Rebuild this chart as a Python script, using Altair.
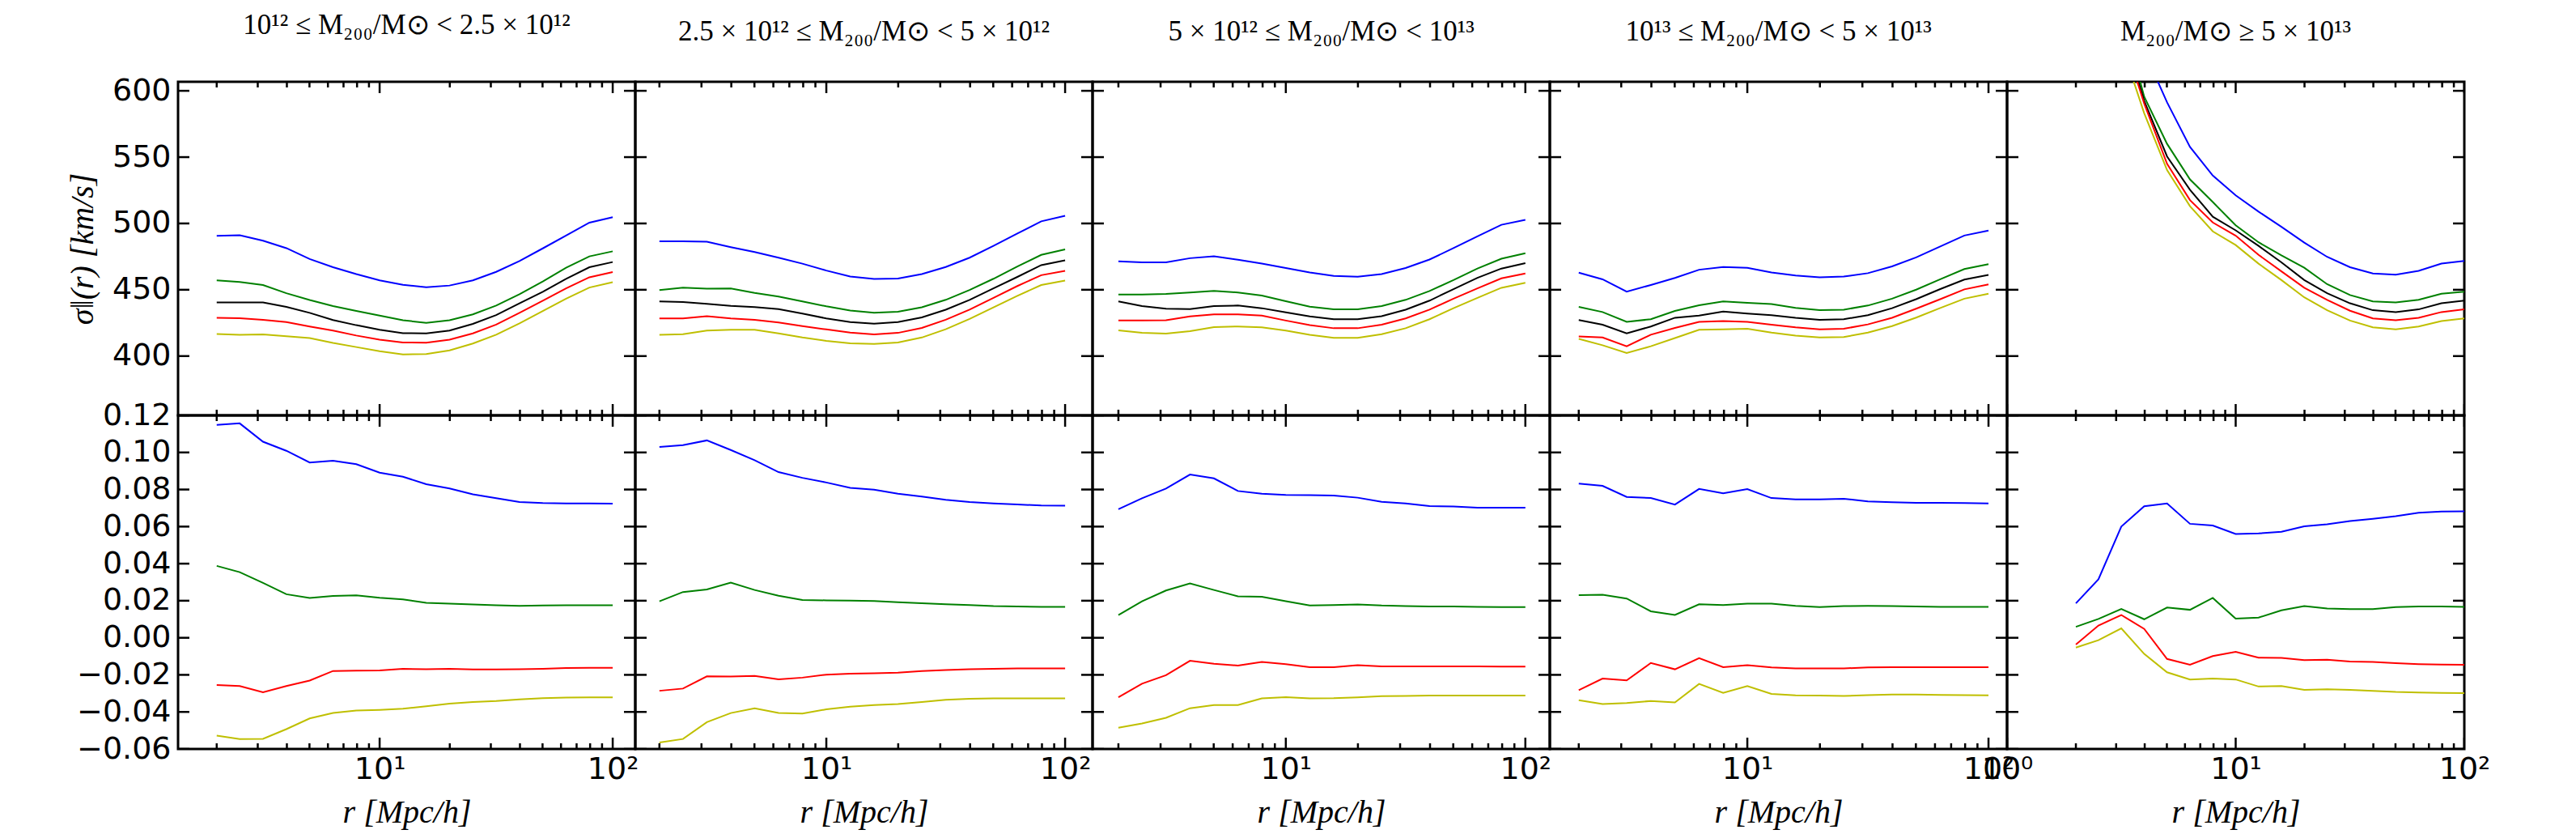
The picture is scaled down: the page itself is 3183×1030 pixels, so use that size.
import altair as alt
import pandas as pd

# ---------------- data ----------------
R = [2.0, 2.51, 3.16, 3.98, 5.01, 6.31, 7.94, 10.0, 12.59, 15.85, 19.95, 25.12,
     31.62, 39.81, 50.12, 63.1, 79.43, 100.0]
R_P5_TOP = R[2:]

SERIES = ["blue", "green", "black", "red", "yellow"]
COLORS = ["#0000ff", "#008000", "#000000", "#ff0000", "#bfbf00"]

TITLES = [
    "10¹² ≤ M₂₀₀/M⊙ < 2.5 × 10¹²",
    "2.5 × 10¹² ≤ M₂₀₀/M⊙ < 5 × 10¹²",
    "5 × 10¹² ≤ M₂₀₀/M⊙ < 10¹³",
    "10¹³ ≤ M₂₀₀/M⊙ < 5 × 10¹³",
    "M₂₀₀/M⊙ ≥ 5 × 10¹³",
]
Y_TITLE = "σ‖(r)  [km/s]"
X_TITLE = "r  [Mpc/h]"

X_DOMAINS = [[1.365, 125.0], [1.585, 130.3], [1.56, 126.5], [1.517, 119.4], [1.0, 100.0]]
TOP_Y_DOMAIN = [355.3, 606.8]
BOT_Y_DOMAIN = [-0.06, 0.12]
TOP_Y_TICKS = [350, 400, 450, 500, 550, 600]
BOT_Y_TICKS = [-0.06, -0.04, -0.02, 0.0, 0.02, 0.04, 0.06, 0.08, 0.10, 0.12]
X_MAJOR = [1, 10, 100]
X_MINOR = [2, 3, 4, 5, 6, 7, 8, 9, 20, 30, 40, 50, 60, 70, 80, 90]

# panel 1
P1_TOP_BLUE = [490.7, 491.1, 487.0, 481.4, 473.2, 467.0, 461.8, 457.1, 453.8, 451.9, 453.2, 457.1, 463.5, 471.7, 481.2, 490.9, 500.6, 504.7]
P1_TOP_GREEN = [457.1, 455.9, 453.6, 447.4, 442.3, 437.7, 434.0, 430.5, 427.0, 425.1, 427.0, 431.5, 438.1, 446.6, 456.3, 466.6, 475.2, 479.0]
P1_TOP_BLACK = [440.4, 440.4, 440.4, 437.1, 432.6, 427.2, 423.3, 419.8, 417.3, 417.1, 419.2, 424.3, 430.9, 439.8, 448.4, 458.3, 467.0, 470.9]
P1_TOP_RED = [428.9, 428.6, 427.4, 425.6, 422.3, 419.2, 415.5, 412.4, 410.3, 410.1, 412.4, 417.1, 423.7, 432.6, 441.8, 451.1, 459.4, 463.3]
P1_TOP_YELLOW = [416.7, 416.1, 416.3, 415.0, 413.6, 409.9, 406.8, 403.7, 401.2, 401.6, 404.3, 409.5, 416.1, 424.7, 434.0, 443.3, 451.7, 455.7]
P1_BOT_BLUE = [0.1149, 0.1157, 0.1058, 0.1009, 0.0946, 0.0955, 0.0937, 0.0891, 0.0869, 0.0829, 0.0806, 0.0774, 0.0753, 0.0733, 0.0727, 0.0725, 0.0725, 0.0724]
P1_BOT_GREEN = [0.0388, 0.0354, 0.0296, 0.0235, 0.0215, 0.0226, 0.0229, 0.0216, 0.0207, 0.0189, 0.0184, 0.0180, 0.0175, 0.0172, 0.0174, 0.0175, 0.0175, 0.0175]
P1_BOT_RED = [-0.0255, -0.0260, -0.0294, -0.0260, -0.0231, -0.0179, -0.0177, -0.0176, -0.0167, -0.0170, -0.0167, -0.0171, -0.0171, -0.0170, -0.0167, -0.0163, -0.0162, -0.0162]
P1_BOT_YELLOW = [-0.0528, -0.0546, -0.0545, -0.0493, -0.0435, -0.0406, -0.0393, -0.0389, -0.0383, -0.0370, -0.0355, -0.0347, -0.0341, -0.0332, -0.0326, -0.0323, -0.0321, -0.0321]

# panel 2
P2_TOP_BLUE = [486.6, 486.6, 486.2, 482.1, 478.4, 474.2, 469.7, 464.5, 460.0, 458.1, 458.5, 461.8, 467.2, 474.2, 483.1, 492.4, 501.6, 505.8]
P2_TOP_GREEN = [449.7, 451.6, 450.8, 451.0, 447.6, 444.9, 441.2, 437.5, 434.4, 432.7, 433.5, 436.8, 442.4, 449.8, 458.3, 467.6, 476.3, 480.4]
P2_TOP_BLACK = [441.2, 440.8, 439.4, 437.9, 436.9, 435.4, 432.1, 428.4, 425.7, 424.5, 425.7, 429.2, 435.0, 442.4, 451.1, 459.7, 468.6, 472.2]
P2_TOP_RED = [428.4, 428.4, 430.1, 428.4, 427.4, 425.3, 422.6, 420.1, 417.7, 416.4, 417.5, 421.2, 427.4, 435.0, 443.9, 452.8, 461.0, 464.3]
P2_TOP_YELLOW = [416.1, 416.5, 419.2, 419.8, 419.8, 417.1, 414.0, 411.5, 409.7, 409.1, 410.3, 414.0, 420.2, 428.0, 436.7, 445.4, 453.6, 456.9]
P2_BOT_BLUE = [0.1030, 0.1039, 0.1065, 0.1013, 0.0958, 0.0894, 0.0863, 0.0838, 0.0809, 0.0799, 0.0777, 0.0762, 0.0745, 0.0733, 0.0725, 0.0719, 0.0714, 0.0713]
P2_BOT_GREEN = [0.0197, 0.0247, 0.0261, 0.0298, 0.0258, 0.0227, 0.0204, 0.0202, 0.0201, 0.0198, 0.0192, 0.0186, 0.0181, 0.0177, 0.0171, 0.0169, 0.0167, 0.0167]
P2_BOT_RED = [-0.0286, -0.0274, -0.0208, -0.0209, -0.0206, -0.0224, -0.0215, -0.0199, -0.0194, -0.0191, -0.0188, -0.0180, -0.0174, -0.0170, -0.0167, -0.0165, -0.0165, -0.0165]
P2_BOT_YELLOW = [-0.0565, -0.0546, -0.0455, -0.0406, -0.0381, -0.0406, -0.0409, -0.0386, -0.0372, -0.0363, -0.0358, -0.0347, -0.0335, -0.0329, -0.0327, -0.0327, -0.0327, -0.0327]

# panel 3
P3_TOP_BLUE = [471.5, 470.7, 470.7, 473.8, 475.2, 472.7, 469.7, 466.4, 463.1, 460.4, 459.8, 461.8, 466.4, 472.8, 481.4, 490.3, 499.0, 502.7]
P3_TOP_GREEN = [446.4, 446.4, 446.8, 448.0, 449.1, 448.0, 445.6, 441.4, 437.3, 435.3, 435.3, 437.7, 442.4, 449.1, 457.3, 466.0, 473.4, 477.5]
P3_TOP_BLACK = [441.2, 437.7, 435.7, 435.4, 437.7, 438.1, 436.1, 433.0, 429.9, 427.8, 427.8, 430.1, 435.0, 441.8, 450.5, 459.0, 466.0, 470.1]
P3_TOP_RED = [426.8, 426.8, 427.0, 429.9, 431.5, 431.5, 430.5, 426.8, 423.3, 421.0, 421.0, 423.7, 428.4, 435.0, 443.3, 451.1, 458.6, 462.3]
P3_TOP_YELLOW = [419.4, 417.5, 416.9, 418.8, 421.9, 422.3, 421.7, 419.2, 416.1, 413.8, 413.8, 416.5, 421.0, 427.8, 436.1, 443.9, 451.5, 455.2]
P3_BOT_BLUE = [0.0694, 0.0753, 0.0805, 0.0881, 0.0860, 0.0792, 0.0777, 0.0771, 0.0770, 0.0767, 0.0756, 0.0734, 0.0725, 0.0711, 0.0708, 0.0702, 0.0702, 0.0702]
P3_BOT_GREEN = [0.0123, 0.0197, 0.0255, 0.0293, 0.0258, 0.0224, 0.0221, 0.0197, 0.0174, 0.0177, 0.0180, 0.0174, 0.0171, 0.0169, 0.0169, 0.0167, 0.0166, 0.0166]
P3_BOT_RED = [-0.0321, -0.0248, -0.0202, -0.0124, -0.0140, -0.0150, -0.0130, -0.0142, -0.0159, -0.0159, -0.0148, -0.0154, -0.0154, -0.0154, -0.0154, -0.0154, -0.0156, -0.0156]
P3_BOT_YELLOW = [-0.0485, -0.0462, -0.0432, -0.0380, -0.0363, -0.0363, -0.0327, -0.0320, -0.0327, -0.0326, -0.0321, -0.0315, -0.0314, -0.0312, -0.0312, -0.0312, -0.0312, -0.0312]

# panel 4
P4_TOP_BLUE = [462.9, 457.9, 448.6, 453.6, 458.9, 465.1, 467.2, 466.6, 463.1, 460.8, 459.4, 460.0, 462.5, 467.6, 474.4, 482.7, 490.9, 494.6]
P4_TOP_GREEN = [437.1, 433.2, 425.8, 427.8, 434.0, 438.3, 441.2, 440.2, 439.2, 436.3, 434.6, 435.0, 438.1, 443.3, 450.1, 457.9, 465.6, 469.3]
P4_TOP_BLACK = [427.2, 423.7, 417.1, 422.3, 428.9, 430.5, 433.6, 432.1, 430.9, 428.9, 427.4, 427.8, 430.9, 436.1, 442.9, 450.5, 457.7, 461.2]
P4_TOP_RED = [414.8, 414.0, 407.4, 416.1, 421.2, 425.8, 426.4, 425.8, 423.7, 421.7, 420.2, 420.6, 423.9, 428.9, 435.7, 442.9, 450.3, 454.0]
P4_TOP_YELLOW = [413.0, 408.2, 402.3, 407.4, 413.6, 419.8, 420.2, 420.6, 417.7, 415.5, 414.0, 414.4, 417.7, 422.6, 429.0, 436.3, 443.3, 447.0]
P4_BOT_BLUE = [0.0832, 0.0820, 0.0760, 0.0754, 0.0719, 0.0803, 0.0780, 0.0802, 0.0754, 0.0747, 0.0747, 0.0750, 0.0736, 0.0731, 0.0728, 0.0728, 0.0727, 0.0725]
P4_BOT_GREEN = [0.0230, 0.0232, 0.0212, 0.0143, 0.0123, 0.0181, 0.0177, 0.0184, 0.0184, 0.0172, 0.0166, 0.0171, 0.0172, 0.0171, 0.0169, 0.0167, 0.0167, 0.0167]
P4_BOT_RED = [-0.0283, -0.0220, -0.0230, -0.0136, -0.0170, -0.0110, -0.0159, -0.0148, -0.0160, -0.0165, -0.0165, -0.0165, -0.0160, -0.0159, -0.0159, -0.0159, -0.0159, -0.0159]
P4_BOT_YELLOW = [-0.0337, -0.0358, -0.0352, -0.0341, -0.0349, -0.0249, -0.0297, -0.0260, -0.0303, -0.0311, -0.0312, -0.0314, -0.0309, -0.0306, -0.0306, -0.0308, -0.0309, -0.0311]

# panel 5 (top row starts at r = 3.16; smaller radii lie far above the plot)
P5_TOP_BLUE = [720.0, 630.0, 591.3, 557.7, 536.1, 521.2, 508.9, 497.5, 485.6, 474.8, 467.0, 462.3, 461.4, 464.3, 469.7, 471.7]
P5_TOP_GREEN = [660.0, 595.5, 560.0, 533.2, 516.1, 498.6, 485.8, 475.9, 466.6, 454.2, 446.0, 441.2, 440.4, 442.4, 447.0, 448.6]
P5_TOP_BLACK = [650.0, 592.4, 550.5, 525.4, 505.1, 494.8, 483.1, 470.7, 457.3, 447.4, 439.8, 434.6, 433.2, 435.2, 439.8, 441.8]
P5_TOP_RED = [645.0, 590.3, 545.0, 517.6, 500.7, 490.8, 476.3, 463.9, 451.5, 442.4, 434.2, 428.4, 427.0, 428.9, 433.2, 435.2]
P5_TOP_YELLOW = [635.0, 583.1, 540.2, 513.0, 494.0, 483.7, 469.7, 457.3, 444.3, 434.6, 426.8, 421.7, 420.2, 422.3, 426.4, 428.4]
P5_BOT_BLUE = [0.0186, 0.0316, 0.0600, 0.0710, 0.0725, 0.0615, 0.0606, 0.0560, 0.0563, 0.0572, 0.0601, 0.0612, 0.0630, 0.0642, 0.0656, 0.0675, 0.0681, 0.0682]
P5_BOT_GREEN = [0.0059, 0.0102, 0.0155, 0.0100, 0.0163, 0.0151, 0.0215, 0.0103, 0.0109, 0.0148, 0.0171, 0.0158, 0.0155, 0.0155, 0.0166, 0.0169, 0.0169, 0.0167]
P5_BOT_RED = [-0.0036, 0.0066, 0.0123, 0.0048, -0.0114, -0.0145, -0.0099, -0.0076, -0.0107, -0.0108, -0.0121, -0.0118, -0.0128, -0.0130, -0.0137, -0.0142, -0.0145, -0.0146]
P5_BOT_YELLOW = [-0.0053, -0.0013, 0.0051, -0.0087, -0.0186, -0.0225, -0.0220, -0.0225, -0.0263, -0.0260, -0.0281, -0.0278, -0.0281, -0.0286, -0.0292, -0.0295, -0.0297, -0.0298]

TOP_PANELS = [
    (R, [P1_TOP_BLUE, P1_TOP_GREEN, P1_TOP_BLACK, P1_TOP_RED, P1_TOP_YELLOW]),
    (R, [P2_TOP_BLUE, P2_TOP_GREEN, P2_TOP_BLACK, P2_TOP_RED, P2_TOP_YELLOW]),
    (R, [P3_TOP_BLUE, P3_TOP_GREEN, P3_TOP_BLACK, P3_TOP_RED, P3_TOP_YELLOW]),
    (R, [P4_TOP_BLUE, P4_TOP_GREEN, P4_TOP_BLACK, P4_TOP_RED, P4_TOP_YELLOW]),
    (R_P5_TOP, [P5_TOP_BLUE, P5_TOP_GREEN, P5_TOP_BLACK, P5_TOP_RED, P5_TOP_YELLOW]),
]
BOT_SERIES = ["blue", "green", "red", "yellow"]
BOT_PANELS = [
    (R, [P1_BOT_BLUE, P1_BOT_GREEN, P1_BOT_RED, P1_BOT_YELLOW]),
    (R, [P2_BOT_BLUE, P2_BOT_GREEN, P2_BOT_RED, P2_BOT_YELLOW]),
    (R, [P3_BOT_BLUE, P3_BOT_GREEN, P3_BOT_RED, P3_BOT_YELLOW]),
    (R, [P4_BOT_BLUE, P4_BOT_GREEN, P4_BOT_RED, P4_BOT_YELLOW]),
    (R, [P5_BOT_BLUE, P5_BOT_GREEN, P5_BOT_RED, P5_BOT_YELLOW]),
]

# ---------------- styling ----------------
W, H = 565, 412
SANS = "DejaVu Sans"
SERIF = "Liberation Serif"
TICK_FS = 38
MAJOR_LEN, MINOR_LEN = 14, 7
TICK_W = 2.5
X_LABEL_EXPR = "datum.value == 1 ? '10⁰' : (datum.value == 10 ? '10¹' : '10²')"


def make_df(xs, series_names, values):
    rows = []
    for name, vals in zip(series_names, values):
        for r, v in zip(xs, vals):
            rows.append({"r": r, "v": v, "s": name})
    return pd.DataFrame(rows)


def panel(df, xdom, ydom, ytick_vals, yfmt, row, col):
    xs = alt.Scale(type="log", domain=xdom, nice=False)
    ys = alt.Scale(domain=ydom, nice=False, zero=False)
    show_x = row == 1
    show_y = col == 0

    # axis with labels / titles (ticks are drawn as inward rules below)
    x_lab_kwargs = dict(orient="bottom", values=X_MAJOR, ticks=False, tickSize=0, domain=False,
                        grid=False, labels=show_x, labelExpr=X_LABEL_EXPR, labelFont=SANS,
                        labelFontSize=TICK_FS, labelColor="black", labelPadding=6,
                        labelFlush=False, labelOverlap=False, title="")
    if show_x:
        x_lab_kwargs.update(title=X_TITLE, titleFont=SERIF, titleFontSize=40,
                            titleFontStyle="italic", titleFontWeight="normal",
                            titleColor="black", titleBaseline="alphabetic", titleY=90)
    y_lab_kwargs = dict(orient="left", values=ytick_vals, format=yfmt, ticks=False, tickSize=0,
                        domain=False, grid=False, labels=show_y, labelFont=SANS,
                        labelFontSize=TICK_FS, labelColor="black", labelPadding=9,
                        labelFlush=False, labelOverlap=False, title="")
    if show_y and row == 0:
        y_lab_kwargs.update(title=Y_TITLE, titleFont=SERIF, titleFontSize=40,
                            titleFontStyle="italic", titleFontWeight="normal",
                            titleColor="black", titleAngle=270, titleAlign="center",
                            titleBaseline="middle", titleX=-118, titleY=H / 2)

    lines = alt.Chart(df).mark_line(strokeWidth=2, clip=True).encode(
        x=alt.X("r:Q", scale=xs, axis=alt.Axis(**x_lab_kwargs)),
        y=alt.Y("v:Q", scale=ys, axis=alt.Axis(**y_lab_kwargs)),
        color=alt.Color("s:N", scale=alt.Scale(domain=SERIES, range=COLORS), legend=None),
        detail="s:N",
    )

    xmaj = alt.Chart(pd.DataFrame({"t": X_MAJOR}))
    xmin = alt.Chart(pd.DataFrame({"t": X_MINOR}))
    yt = alt.Chart(pd.DataFrame({"t": ytick_vals}))
    rule = dict(color="black", strokeWidth=TICK_W, clip=True)
    xe = alt.X("t:Q", scale=xs, axis=None)
    ye = alt.Y("t:Q", scale=ys, axis=None)

    ticks = [
        # inward ticks on bottom edge
        xmaj.mark_rule(**rule).encode(x=xe, y=alt.value(H), y2=alt.value(H - MAJOR_LEN)),
        xmin.mark_rule(**rule).encode(x=xe, y=alt.value(H), y2=alt.value(H - MINOR_LEN)),
        # inward ticks on top edge
        xmaj.mark_rule(**rule).encode(x=xe, y=alt.value(0), y2=alt.value(MAJOR_LEN)),
        xmin.mark_rule(**rule).encode(x=xe, y=alt.value(0), y2=alt.value(MINOR_LEN)),
        # inward ticks on left and right edges
        yt.mark_rule(**rule).encode(y=ye, x=alt.value(0), x2=alt.value(MAJOR_LEN)),
        yt.mark_rule(**rule).encode(y=ye, x=alt.value(W), x2=alt.value(W - MAJOR_LEN)),
    ]
    layer = alt.layer(lines, *ticks).resolve_axis(x="independent", y="independent")
    props = dict(width=W, height=H)
    if row == 0:
        props["title"] = alt.TitleParams(text=TITLES[col], font=SERIF, fontSize=35,
                                         fontWeight="normal", color="black", anchor="middle",
                                         baseline="alphabetic", offset=16, frame="group")
    return layer.properties(**props)


charts = []
for c, (xs_, vals) in enumerate(TOP_PANELS):
    df = make_df(xs_, SERIES, vals)
    charts.append(panel(df, X_DOMAINS[c], TOP_Y_DOMAIN, TOP_Y_TICKS, "d", 0, c))
for c, (xs_, vals) in enumerate(BOT_PANELS):
    df = make_df(xs_, BOT_SERIES, vals)
    charts.append(panel(df, X_DOMAINS[c], BOT_Y_DOMAIN, BOT_Y_TICKS, ".2f", 1, c))

chart = alt.concat(*charts, columns=5, spacing=0, bounds="flush").properties(
    padding={"left": 80, "top": 12, "right": 5, "bottom": 2},
    background="white",
).configure_view(stroke="black", strokeWidth=3).configure_axis(grid=False)

chart.save("out.html", embed_options={"renderer": "svg", "actions": False})
